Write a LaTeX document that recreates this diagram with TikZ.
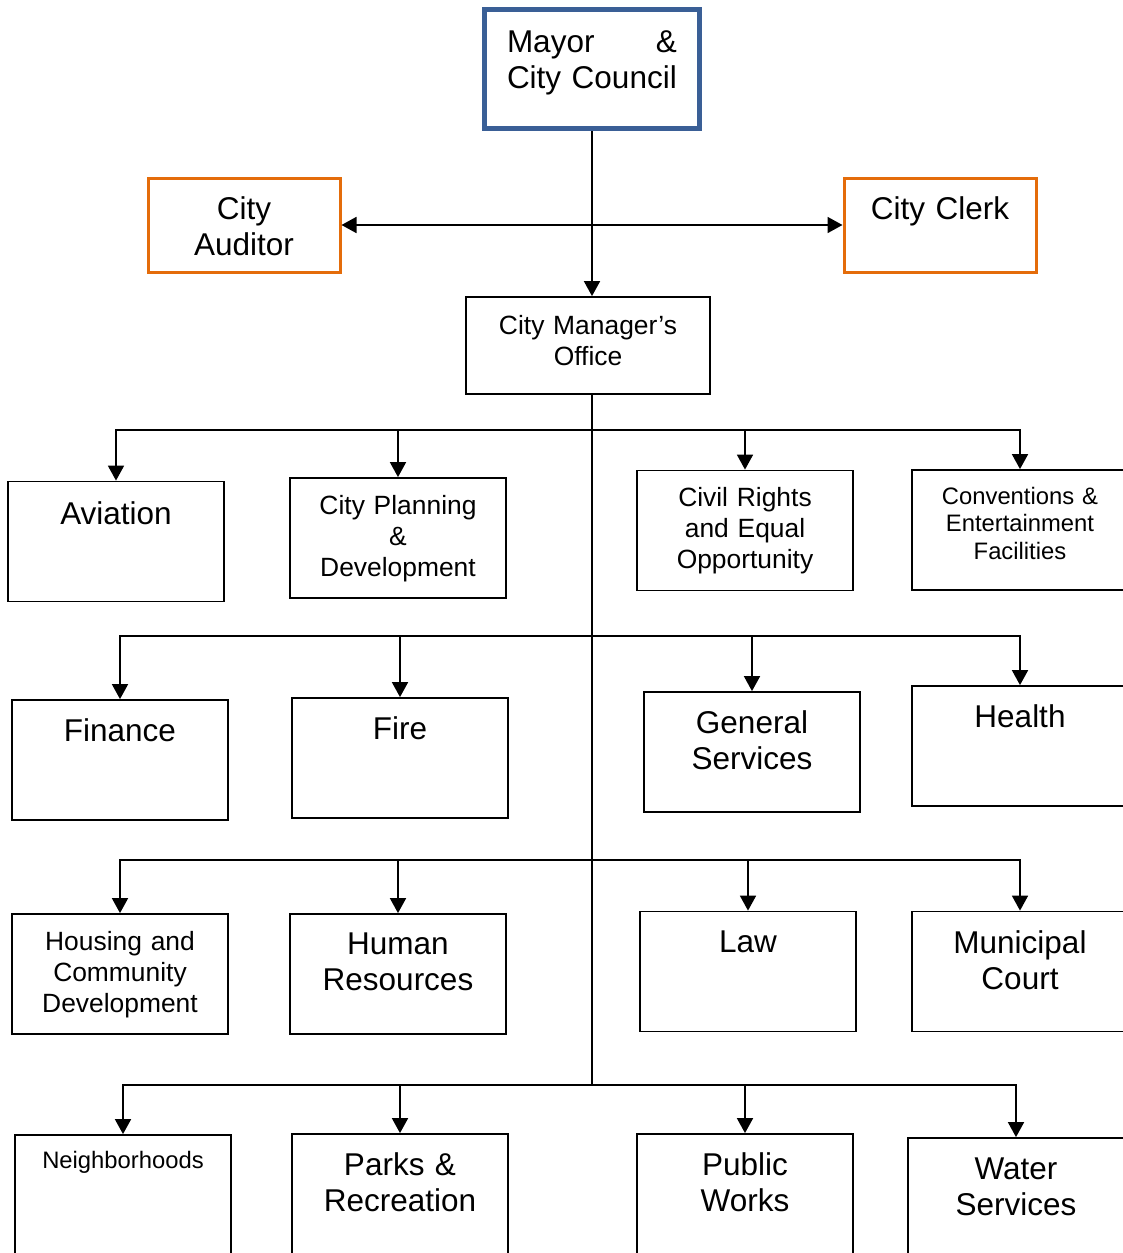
\documentclass[tikz,border=0pt]{standalone}
\usepackage{fontspec}
\setmainfont{Liberation Sans}
\usetikzlibrary{arrows.meta}
\definecolor{mayorblue}{HTML}{3A5F96}
\definecolor{officeorange}{HTML}{E46C0A}
\newcommand{\fsbig}{\fontsize{31.5}{36}\selectfont}
\newcommand{\fsmid}{\fontsize{26.4}{31}\selectfont}
\newcommand{\fssmall}{\fontsize{23.8}{27.5}\selectfont}
\tikzset{
  dept/.style={draw=black, line width=1.8pt, minimum width=216pt, minimum height=120pt, inner sep=0pt},
  topbox/.style={draw=#1, line width=3pt, minimum width=192pt, minimum height=94pt, inner sep=0pt},
  lbl/.style={anchor=base, align=center, text width=210pt, inner sep=0pt},
  conn/.style={line width=1.8pt},
  tip/.style={-{Triangle[length=15pt,width=16pt]}},
  arr/.style={conn, tip}
}

\begin{document}
\begin{tikzpicture}[x=1pt, y=-1pt]
  \useasboundingbox (0,0) rectangle (1123,1253);
  \clip (0,0) rectangle (1123,1253);

  % council, auditor, clerk, manager
  \node[draw=mayorblue, line width=5pt, minimum width=215pt, minimum height=119pt, inner sep=0pt] (mayor) at (592,69) {};
  \node[lbl, font=\fsbig, text width=170pt, align=left] (mayor-t) at ([yshift=-45.5pt]mayor.north) {Mayor\hfill\&\\City Council};
  \node[topbox=officeorange] (aud) at (244,225) {};
  \node[lbl, font=\fsbig] (aud-t) at ([yshift=-43pt]aud.north) {City\\Auditor};
  \node[topbox=officeorange] (clk) at (940,225) {};
  \node[lbl, font=\fsbig] (clk-t) at ([yshift=-43pt]clk.north) {City Clerk};
  \node[dept, minimum width=244pt, minimum height=97pt] (cmo) at (588,345.5) {};
  \node[lbl, font=\fsmid] (cmo-t) at ([yshift=-38pt]cmo.north) {City Manager’s\\Office};

  % departments
  \foreach \name/\cx/\cy/\off/\fs/\txt in {
      avi/116/541.5/44/\fsbig/{Aviation},
      cpd/398/538/37/\fsmid/{City Planning\\\&\\Development},
      civ/745/530.5/37/\fsmid/{Civil Rights\\and Equal\\Opportunity},
      con/1020/530/35/\fssmall/{Conventions \&\\Entertainment\\Facilities},
      fin/120/760/42.5/\fsbig/{Finance},
      fire/400/758/42.5/\fsbig/{Fire},
      gen/752/752/42.5/\fsbig/{General\\Services},
      hlt/1020/746/42.5/\fsbig/{Health},
      hsg/120/974/37/\fsmid/{Housing and\\Community\\Development},
      hr/398/974/41.5/\fsbig/{Human\\Resources},
      law/748/971.5/42/\fsbig/{Law},
      mun/1020/971.5/42.5/\fsbig/{Municipal\\Court},
      nbh/123/1195/34/\fssmall/{Neighborhoods},
      prk/400/1194/42.5/\fsbig/{Parks \&\\Recreation},
      pw/745/1194/42.5/\fsbig/{Public\\Works},
      wat/1016/1198/42.5/\fsbig/{Water\\Services}}
  {
    \node[dept] (\name) at (\cx,\cy) {};
    \node[lbl, font=\fs] (\name-t) at ([yshift=-\off pt]\name.north) {\txt};
  }

  % branch points on the trunk
  \coordinate (j1) at (592,430);
  \coordinate (j2) at (592,636);
  \coordinate (j3) at (592,860);
  \coordinate (j4) at (592,1085);

  \draw[conn, {Triangle[length=15pt,width=16pt]}-{Triangle[length=15pt,width=16pt]}] (aud.east) -- (clk.west);
  \draw[arr] (mayor.south) -- (mayor.south |- cmo.north);
  \draw[conn] (cmo.south -| j1) -- (j4);
  \foreach \name/\j in {avi/j1, cpd/j1, civ/j1, con/j1,
                        fin/j2, fire/j2, gen/j2, hlt/j2,
                        hsg/j3, hr/j3, law/j3, mun/j3,
                        nbh/j4, prk/j4, pw/j4, wat/j4}
    \draw[arr] (\j) -| (\name.north);
\end{tikzpicture}
\end{document}
